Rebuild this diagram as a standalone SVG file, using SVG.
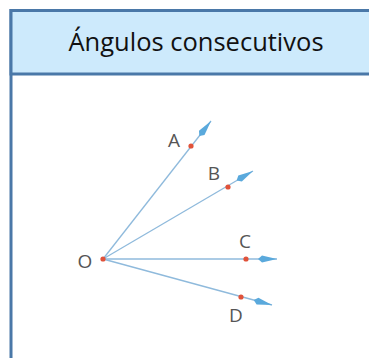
<svg xmlns="http://www.w3.org/2000/svg" width="369" height="358" viewBox="0 0 369 358">
<style>
.frame{fill:#ffffff;stroke:#4a78a8;stroke-width:3}
.head{fill:#cdeafc;stroke:#4a78a8;stroke-width:3}
.title{font-family:"Open Sans","Noto Sans",sans-serif;font-size:25.5px;fill:#111111}
.lbl{font-family:"Open Sans","Noto Sans",sans-serif;font-size:19px;fill:#555555}
.ray{stroke:#8fbadc;stroke-width:1.3;fill:none;marker-end:url(#ah)}
.dot{fill:#e0523a}
</style>
<defs>
<marker id="ah" markerWidth="20" markerHeight="10" refX="19" refY="5" orient="auto" markerUnits="userSpaceOnUse">
<path d="M0,5 L4,1.5 L19,5 L4,8.5 Z" fill="#5aa9dc"/>
</marker>
</defs>
<g id="frame">
<rect class="frame" x="11" y="10.5" width="420" height="420"/>
<rect class="head" x="11" y="10.5" width="420" height="63.5"/>
<text class="title" x="196" y="51" text-anchor="middle">Ángulos consecutivos</text>
</g>
<g id="connectors">
<line class="ray" x1="103" y1="259" x2="211" y2="121"/>
<line class="ray" x1="103" y1="259" x2="253" y2="171"/>
<line class="ray" x1="103" y1="259" x2="277" y2="259"/>
<line class="ray" x1="103" y1="259" x2="272" y2="305"/>
</g>
<g id="O"><circle class="dot" cx="103" cy="259" r="2.6"/><text class="lbl" x="85" y="268" text-anchor="middle">O</text></g>
<g id="A"><circle class="dot" cx="191" cy="146" r="2.6"/><text class="lbl" x="174" y="147" text-anchor="middle">A</text></g>
<g id="B"><circle class="dot" cx="228" cy="187" r="2.6"/><text class="lbl" x="214" y="180" text-anchor="middle">B</text></g>
<g id="C"><circle class="dot" cx="246" cy="259" r="2.6"/><text class="lbl" x="245" y="248" text-anchor="middle">C</text></g>
<g id="D"><circle class="dot" cx="241" cy="297" r="2.6"/><text class="lbl" x="236" y="322" text-anchor="middle">D</text></g>
</svg>
